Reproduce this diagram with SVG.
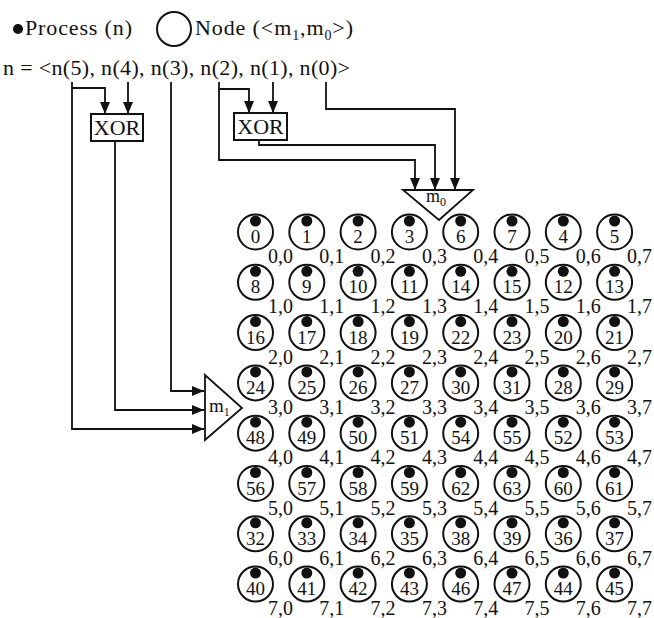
<svg xmlns="http://www.w3.org/2000/svg" width="654" height="618" viewBox="0 0 654 618">
<defs>
<marker id="arr" viewBox="0 0 12 10" refX="12" refY="5" markerWidth="12" markerHeight="10" markerUnits="userSpaceOnUse" orient="auto">
<path d="M0,0 L12,5 L0,10 z" fill="#111"/>
</marker>
</defs>
<style>
text{font-family:"Liberation Serif","Times New Roman",serif;fill:#111}
.big{font-size:22px}
.num{font-size:19px;text-anchor:middle}
.lbl{font-size:20px;text-anchor:middle}
.c{fill:none;stroke:#111;stroke-width:2}
.d{fill:#111}
.box{fill:#fff;stroke:#111;stroke-width:2}
.tri{fill:#fff;stroke:#111;stroke-width:1.8}
.w{fill:none;stroke:#111;stroke-width:1.8}
.wa{fill:none;stroke:#111;stroke-width:1.8;marker-end:url(#arr)}
</style>
<rect width="654" height="618" fill="#fff"/>

<g id="legend">
<circle class="d" cx="18" cy="29" r="5"/>
<text class="big" x="25" y="35" textLength="107" lengthAdjust="spacing">Process (n)</text>
<circle class="c" cx="174" cy="29" r="17"/>
<text class="big" x="195" y="35" textLength="158" lengthAdjust="spacing">Node (&lt;m<tspan font-size="14" dy="5">1</tspan><tspan dy="-5">,m</tspan><tspan font-size="14" dy="5">0</tspan><tspan dy="-5">&gt;)</tspan></text>
</g>
<g id="bits">
<text class="big" x="3" y="75" textLength="347" lengthAdjust="spacing">n = &lt;n(5), n(4), n(3), n(2), n(1), n(0)&gt;</text>
</g>

<g id="connectors">
<path class="w" d="M72,82 V88"/>
<path class="wa" d="M72,88 V429 H204"/>
<path class="wa" d="M72,88 H105 V114"/>
<path class="wa" d="M128,82 V114"/>
<path class="wa" d="M115,141 V410 H204"/>
<path class="wa" d="M171,82 V391 H204"/>
<path class="w" d="M219,82 V89"/>
<path class="wa" d="M219,89 V160 H415 V190"/>
<path class="wa" d="M219,89 H249 V113"/>
<path class="wa" d="M273,82 V113"/>
<path class="wa" d="M259,140 V145 H435 V190"/>
<path class="wa" d="M326,82 V109 H455 V190"/>
</g>

<g id="xor1">
<rect class="box" x="91" y="114" width="52" height="27"/>
<text class="big" x="117" y="135" text-anchor="middle" font-size="20">XOR</text>
</g>
<g id="xor2">
<rect class="box" x="234" y="113" width="53" height="27"/>
<text class="big" x="260.5" y="134" text-anchor="middle" font-size="20">XOR</text>
</g>
<g id="m0">
<path class="tri" d="M403,190 L473,190 L439,220 z"/>
<text x="426" y="202" font-size="18">m<tspan font-size="12" dy="4">0</tspan></text>
</g>
<g id="m1">
<path class="tri" d="M205,375 L205,440 L242,408 z"/>
<text x="209" y="412" font-size="19">m<tspan font-size="12" dy="4">1</tspan></text>
</g>

<g id="n0" transform="translate(255.5,232)"><circle class="c" r="17.5"/><circle class="d" cy="-11" r="5.5"/><text class="num" y="11">0</text><text class="lbl" x="25" y="31">0,0</text></g>
<g id="n1" transform="translate(306.8,232)"><circle class="c" r="17.5"/><circle class="d" cy="-11" r="5.5"/><text class="num" y="11">1</text><text class="lbl" x="25" y="31">0,1</text></g>
<g id="n2" transform="translate(358.1,232)"><circle class="c" r="17.5"/><circle class="d" cy="-11" r="5.5"/><text class="num" y="11">2</text><text class="lbl" x="25" y="31">0,2</text></g>
<g id="n3" transform="translate(409.4,232)"><circle class="c" r="17.5"/><circle class="d" cy="-11" r="5.5"/><text class="num" y="11">3</text><text class="lbl" x="25" y="31">0,3</text></g>
<g id="n6" transform="translate(460.7,232)"><circle class="c" r="17.5"/><circle class="d" cy="-11" r="5.5"/><text class="num" y="11">6</text><text class="lbl" x="25" y="31">0,4</text></g>
<g id="n7" transform="translate(512,232)"><circle class="c" r="17.5"/><circle class="d" cy="-11" r="5.5"/><text class="num" y="11">7</text><text class="lbl" x="25" y="31">0,5</text></g>
<g id="n4" transform="translate(563.3,232)"><circle class="c" r="17.5"/><circle class="d" cy="-11" r="5.5"/><text class="num" y="11">4</text><text class="lbl" x="25" y="31">0,6</text></g>
<g id="n5" transform="translate(614.6,232)"><circle class="c" r="17.5"/><circle class="d" cy="-11" r="5.5"/><text class="num" y="11">5</text><text class="lbl" x="25" y="31">0,7</text></g>

<g id="n8" transform="translate(255.5,282.3)"><circle class="c" r="17.5"/><circle class="d" cy="-11" r="5.5"/><text class="num" y="11">8</text><text class="lbl" x="25" y="31">1,0</text></g>
<g id="n9" transform="translate(306.8,282.3)"><circle class="c" r="17.5"/><circle class="d" cy="-11" r="5.5"/><text class="num" y="11">9</text><text class="lbl" x="25" y="31">1,1</text></g>
<g id="n10" transform="translate(358.1,282.3)"><circle class="c" r="17.5"/><circle class="d" cy="-11" r="5.5"/><text class="num" y="11">10</text><text class="lbl" x="25" y="31">1,2</text></g>
<g id="n11" transform="translate(409.4,282.3)"><circle class="c" r="17.5"/><circle class="d" cy="-11" r="5.5"/><text class="num" y="11">11</text><text class="lbl" x="25" y="31">1,3</text></g>
<g id="n14" transform="translate(460.7,282.3)"><circle class="c" r="17.5"/><circle class="d" cy="-11" r="5.5"/><text class="num" y="11">14</text><text class="lbl" x="25" y="31">1,4</text></g>
<g id="n15" transform="translate(512,282.3)"><circle class="c" r="17.5"/><circle class="d" cy="-11" r="5.5"/><text class="num" y="11">15</text><text class="lbl" x="25" y="31">1,5</text></g>
<g id="n12" transform="translate(563.3,282.3)"><circle class="c" r="17.5"/><circle class="d" cy="-11" r="5.5"/><text class="num" y="11">12</text><text class="lbl" x="25" y="31">1,6</text></g>
<g id="n13" transform="translate(614.6,282.3)"><circle class="c" r="17.5"/><circle class="d" cy="-11" r="5.5"/><text class="num" y="11">13</text><text class="lbl" x="25" y="31">1,7</text></g>

<g id="n16" transform="translate(255.5,332.6)"><circle class="c" r="17.5"/><circle class="d" cy="-11" r="5.5"/><text class="num" y="11">16</text><text class="lbl" x="25" y="31">2,0</text></g>
<g id="n17" transform="translate(306.8,332.6)"><circle class="c" r="17.5"/><circle class="d" cy="-11" r="5.5"/><text class="num" y="11">17</text><text class="lbl" x="25" y="31">2,1</text></g>
<g id="n18" transform="translate(358.1,332.6)"><circle class="c" r="17.5"/><circle class="d" cy="-11" r="5.5"/><text class="num" y="11">18</text><text class="lbl" x="25" y="31">2,2</text></g>
<g id="n19" transform="translate(409.4,332.6)"><circle class="c" r="17.5"/><circle class="d" cy="-11" r="5.5"/><text class="num" y="11">19</text><text class="lbl" x="25" y="31">2,3</text></g>
<g id="n22" transform="translate(460.7,332.6)"><circle class="c" r="17.5"/><circle class="d" cy="-11" r="5.5"/><text class="num" y="11">22</text><text class="lbl" x="25" y="31">2,4</text></g>
<g id="n23" transform="translate(512,332.6)"><circle class="c" r="17.5"/><circle class="d" cy="-11" r="5.5"/><text class="num" y="11">23</text><text class="lbl" x="25" y="31">2,5</text></g>
<g id="n20" transform="translate(563.3,332.6)"><circle class="c" r="17.5"/><circle class="d" cy="-11" r="5.5"/><text class="num" y="11">20</text><text class="lbl" x="25" y="31">2,6</text></g>
<g id="n21" transform="translate(614.6,332.6)"><circle class="c" r="17.5"/><circle class="d" cy="-11" r="5.5"/><text class="num" y="11">21</text><text class="lbl" x="25" y="31">2,7</text></g>

<g id="n24" transform="translate(255.5,382.9)"><circle class="c" r="17.5"/><circle class="d" cy="-11" r="5.5"/><text class="num" y="11">24</text><text class="lbl" x="25" y="31">3,0</text></g>
<g id="n25" transform="translate(306.8,382.9)"><circle class="c" r="17.5"/><circle class="d" cy="-11" r="5.5"/><text class="num" y="11">25</text><text class="lbl" x="25" y="31">3,1</text></g>
<g id="n26" transform="translate(358.1,382.9)"><circle class="c" r="17.5"/><circle class="d" cy="-11" r="5.5"/><text class="num" y="11">26</text><text class="lbl" x="25" y="31">3,2</text></g>
<g id="n27" transform="translate(409.4,382.9)"><circle class="c" r="17.5"/><circle class="d" cy="-11" r="5.5"/><text class="num" y="11">27</text><text class="lbl" x="25" y="31">3,3</text></g>
<g id="n30" transform="translate(460.7,382.9)"><circle class="c" r="17.5"/><circle class="d" cy="-11" r="5.5"/><text class="num" y="11">30</text><text class="lbl" x="25" y="31">3,4</text></g>
<g id="n31" transform="translate(512,382.9)"><circle class="c" r="17.5"/><circle class="d" cy="-11" r="5.5"/><text class="num" y="11">31</text><text class="lbl" x="25" y="31">3,5</text></g>
<g id="n28" transform="translate(563.3,382.9)"><circle class="c" r="17.5"/><circle class="d" cy="-11" r="5.5"/><text class="num" y="11">28</text><text class="lbl" x="25" y="31">3,6</text></g>
<g id="n29" transform="translate(614.6,382.9)"><circle class="c" r="17.5"/><circle class="d" cy="-11" r="5.5"/><text class="num" y="11">29</text><text class="lbl" x="25" y="31">3,7</text></g>

<g id="n48" transform="translate(255.5,433.2)"><circle class="c" r="17.5"/><circle class="d" cy="-11" r="5.5"/><text class="num" y="11">48</text><text class="lbl" x="25" y="31">4,0</text></g>
<g id="n49" transform="translate(306.8,433.2)"><circle class="c" r="17.5"/><circle class="d" cy="-11" r="5.5"/><text class="num" y="11">49</text><text class="lbl" x="25" y="31">4,1</text></g>
<g id="n50" transform="translate(358.1,433.2)"><circle class="c" r="17.5"/><circle class="d" cy="-11" r="5.5"/><text class="num" y="11">50</text><text class="lbl" x="25" y="31">4,2</text></g>
<g id="n51" transform="translate(409.4,433.2)"><circle class="c" r="17.5"/><circle class="d" cy="-11" r="5.5"/><text class="num" y="11">51</text><text class="lbl" x="25" y="31">4,3</text></g>
<g id="n54" transform="translate(460.7,433.2)"><circle class="c" r="17.5"/><circle class="d" cy="-11" r="5.5"/><text class="num" y="11">54</text><text class="lbl" x="25" y="31">4,4</text></g>
<g id="n55" transform="translate(512,433.2)"><circle class="c" r="17.5"/><circle class="d" cy="-11" r="5.5"/><text class="num" y="11">55</text><text class="lbl" x="25" y="31">4,5</text></g>
<g id="n52" transform="translate(563.3,433.2)"><circle class="c" r="17.5"/><circle class="d" cy="-11" r="5.5"/><text class="num" y="11">52</text><text class="lbl" x="25" y="31">4,6</text></g>
<g id="n53" transform="translate(614.6,433.2)"><circle class="c" r="17.5"/><circle class="d" cy="-11" r="5.5"/><text class="num" y="11">53</text><text class="lbl" x="25" y="31">4,7</text></g>

<g id="n56" transform="translate(255.5,483.5)"><circle class="c" r="17.5"/><circle class="d" cy="-11" r="5.5"/><text class="num" y="11">56</text><text class="lbl" x="25" y="31">5,0</text></g>
<g id="n57" transform="translate(306.8,483.5)"><circle class="c" r="17.5"/><circle class="d" cy="-11" r="5.5"/><text class="num" y="11">57</text><text class="lbl" x="25" y="31">5,1</text></g>
<g id="n58" transform="translate(358.1,483.5)"><circle class="c" r="17.5"/><circle class="d" cy="-11" r="5.5"/><text class="num" y="11">58</text><text class="lbl" x="25" y="31">5,2</text></g>
<g id="n59" transform="translate(409.4,483.5)"><circle class="c" r="17.5"/><circle class="d" cy="-11" r="5.5"/><text class="num" y="11">59</text><text class="lbl" x="25" y="31">5,3</text></g>
<g id="n62" transform="translate(460.7,483.5)"><circle class="c" r="17.5"/><circle class="d" cy="-11" r="5.5"/><text class="num" y="11">62</text><text class="lbl" x="25" y="31">5,4</text></g>
<g id="n63" transform="translate(512,483.5)"><circle class="c" r="17.5"/><circle class="d" cy="-11" r="5.5"/><text class="num" y="11">63</text><text class="lbl" x="25" y="31">5,5</text></g>
<g id="n60" transform="translate(563.3,483.5)"><circle class="c" r="17.5"/><circle class="d" cy="-11" r="5.5"/><text class="num" y="11">60</text><text class="lbl" x="25" y="31">5,6</text></g>
<g id="n61" transform="translate(614.6,483.5)"><circle class="c" r="17.5"/><circle class="d" cy="-11" r="5.5"/><text class="num" y="11">61</text><text class="lbl" x="25" y="31">5,7</text></g>

<g id="n32" transform="translate(255.5,533.8)"><circle class="c" r="17.5"/><circle class="d" cy="-11" r="5.5"/><text class="num" y="11">32</text><text class="lbl" x="25" y="31">6,0</text></g>
<g id="n33" transform="translate(306.8,533.8)"><circle class="c" r="17.5"/><circle class="d" cy="-11" r="5.5"/><text class="num" y="11">33</text><text class="lbl" x="25" y="31">6,1</text></g>
<g id="n34" transform="translate(358.1,533.8)"><circle class="c" r="17.5"/><circle class="d" cy="-11" r="5.5"/><text class="num" y="11">34</text><text class="lbl" x="25" y="31">6,2</text></g>
<g id="n35" transform="translate(409.4,533.8)"><circle class="c" r="17.5"/><circle class="d" cy="-11" r="5.5"/><text class="num" y="11">35</text><text class="lbl" x="25" y="31">6,3</text></g>
<g id="n38" transform="translate(460.7,533.8)"><circle class="c" r="17.5"/><circle class="d" cy="-11" r="5.5"/><text class="num" y="11">38</text><text class="lbl" x="25" y="31">6,4</text></g>
<g id="n39" transform="translate(512,533.8)"><circle class="c" r="17.5"/><circle class="d" cy="-11" r="5.5"/><text class="num" y="11">39</text><text class="lbl" x="25" y="31">6,5</text></g>
<g id="n36" transform="translate(563.3,533.8)"><circle class="c" r="17.5"/><circle class="d" cy="-11" r="5.5"/><text class="num" y="11">36</text><text class="lbl" x="25" y="31">6,6</text></g>
<g id="n37" transform="translate(614.6,533.8)"><circle class="c" r="17.5"/><circle class="d" cy="-11" r="5.5"/><text class="num" y="11">37</text><text class="lbl" x="25" y="31">6,7</text></g>

<g id="n40" transform="translate(255.5,584.1)"><circle class="c" r="17.5"/><circle class="d" cy="-11" r="5.5"/><text class="num" y="11">40</text><text class="lbl" x="25" y="31">7,0</text></g>
<g id="n41" transform="translate(306.8,584.1)"><circle class="c" r="17.5"/><circle class="d" cy="-11" r="5.5"/><text class="num" y="11">41</text><text class="lbl" x="25" y="31">7,1</text></g>
<g id="n42" transform="translate(358.1,584.1)"><circle class="c" r="17.5"/><circle class="d" cy="-11" r="5.5"/><text class="num" y="11">42</text><text class="lbl" x="25" y="31">7,2</text></g>
<g id="n43" transform="translate(409.4,584.1)"><circle class="c" r="17.5"/><circle class="d" cy="-11" r="5.5"/><text class="num" y="11">43</text><text class="lbl" x="25" y="31">7,3</text></g>
<g id="n46" transform="translate(460.7,584.1)"><circle class="c" r="17.5"/><circle class="d" cy="-11" r="5.5"/><text class="num" y="11">46</text><text class="lbl" x="25" y="31">7,4</text></g>
<g id="n47" transform="translate(512,584.1)"><circle class="c" r="17.5"/><circle class="d" cy="-11" r="5.5"/><text class="num" y="11">47</text><text class="lbl" x="25" y="31">7,5</text></g>
<g id="n44" transform="translate(563.3,584.1)"><circle class="c" r="17.5"/><circle class="d" cy="-11" r="5.5"/><text class="num" y="11">44</text><text class="lbl" x="25" y="31">7,6</text></g>
<g id="n45" transform="translate(614.6,584.1)"><circle class="c" r="17.5"/><circle class="d" cy="-11" r="5.5"/><text class="num" y="11">45</text><text class="lbl" x="25" y="31">7,7</text></g>
</svg>
